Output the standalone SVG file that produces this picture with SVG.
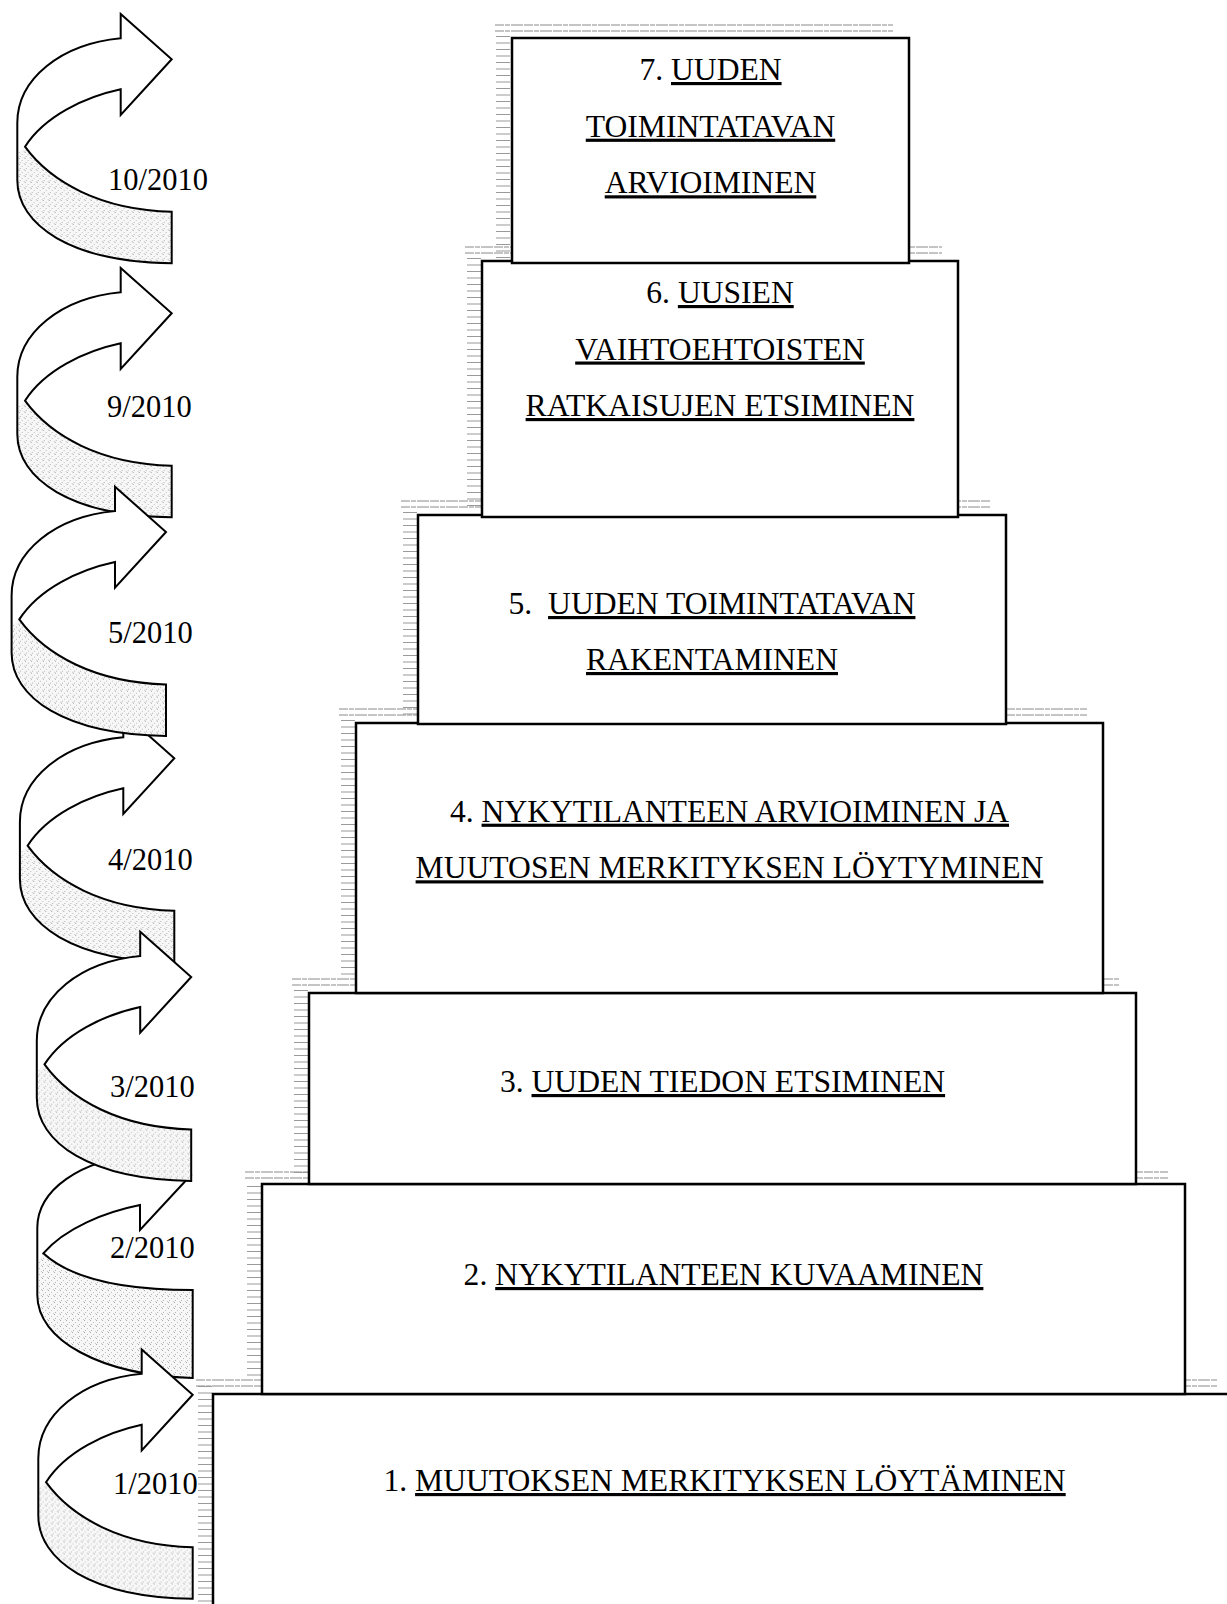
<svg xmlns="http://www.w3.org/2000/svg" xmlns:xlink="http://www.w3.org/1999/xlink" width="1227" height="1604" viewBox="0 0 1227 1604">
<style>
.box{fill:#fff;stroke:#000;stroke-width:2.5}
.t{font-family:"Liberation Serif","Times New Roman",serif;font-size:31.6px;fill:#000;text-anchor:middle}
.u{text-decoration:underline}
.d{font-family:"Liberation Serif","Times New Roman",serif;font-size:30.5px;fill:#000}
.dl{stroke:#8a8a8a;stroke-width:1;stroke-dasharray:9 1 5 1 12 1}
.ht{stroke:#9a9a9a;stroke-width:14;stroke-dasharray:1 5.5;fill:none}
.ab{fill:#fff;stroke:none}
.as{fill:url(#dots);stroke:none}
.ao{fill:none;stroke:#000;stroke-width:2;stroke-linejoin:miter}
</style>
<defs>
<pattern id="dots" width="6" height="6" patternUnits="userSpaceOnUse">
<rect width="6" height="6" fill="#f7f7f7"/>
<rect x="0" y="0" width="1" height="1" fill="#a8a8a8"/>
<rect x="3" y="2" width="1" height="1" fill="#c0c0c0"/>
<rect x="1" y="4" width="1" height="1" fill="#b4b4b4"/>
<rect x="5" y="5" width="1" height="1" fill="#c8c8c8"/>
</pattern>
<g id="arw">
<path class="ab" d="M -103.4,109 C -103.4,65 -60,30 0,24.3 L 0,0 L 51,45.3 L 0,101 L 0,75.3 C -36,83 -76,102 -95.7,132.7 C -70,168 -20,196 51,197.7 L 51,249.3 C -50,248 -103.4,211 -103.4,166 Z"/>
<path class="as" d="M -95.7,132.7 C -70,168 -20,196 51,197.7 L 51,249.3 C -50,248 -103.4,211 -103.4,166 L -103.4,140 Z"/>
<path class="ao" d="M -103.4,109 C -103.4,65 -60,30 0,24.3 L 0,0 L 51,45.3 L 0,101 L 0,75.3 C -36,83 -76,102 -95.7,132.7 C -70,168 -20,196 51,197.7 L 51,249.3 C -50,248 -103.4,211 -103.4,166 Z"/>
</g>
</defs>
<rect width="1227" height="1604" fill="#fff"/>

<g id="boxes">
<g id="box1">
<line class="dl" x1="196" y1="1380" x2="1217" y2="1380"/>
<line class="dl" x1="196" y1="1386" x2="1217" y2="1386"/>
<line class="ht" x1="205" y1="1386" x2="205" y2="1604"/>
<rect class="box" x="213" y="1394" width="1040" height="230"/>
<text class="t" x="724.6" y="1491">1. <tspan class="u">MUUTOKSEN MERKITYKSEN LÖYTÄMINEN</tspan></text>
</g>
<g id="box2">
<line class="dl" x1="245" y1="1172" x2="1168" y2="1172"/>
<line class="dl" x1="245" y1="1178" x2="1168" y2="1178"/>
<line class="ht" x1="254" y1="1186" x2="254" y2="1380"/>
<rect class="box" x="262" y="1184" width="923" height="210"/>
<text class="t" x="723.5" y="1285">2. <tspan class="u">NYKYTILANTEEN KUVAAMINEN</tspan></text>
</g>
<g id="box3">
<line class="dl" x1="292" y1="979" x2="1119" y2="979"/>
<line class="dl" x1="292" y1="985" x2="1119" y2="985"/>
<line class="ht" x1="301" y1="990" x2="301" y2="1178"/>
<rect class="box" x="309" y="993" width="827" height="191"/>
<text class="t" x="722.5" y="1092">3. <tspan class="u">UUDEN TIEDON ETSIMINEN</tspan></text>
</g>
<g id="box4">
<line class="dl" x1="339" y1="709" x2="1087" y2="709"/>
<line class="dl" x1="339" y1="715" x2="1087" y2="715"/>
<line class="ht" x1="348" y1="720" x2="348" y2="978"/>
<rect class="box" x="356" y="723" width="747" height="270"/>
<text class="t" x="729.5" y="821.7">4. <tspan class="u">NYKYTILANTEEN ARVIOIMINEN JA</tspan></text>
<text class="t" x="729.5" y="878.3"><tspan class="u">MUUTOSEN MERKITYKSEN LÖYTYMINEN</tspan></text>
</g>
<g id="box5">
<line class="dl" x1="401" y1="501" x2="990" y2="501"/>
<line class="dl" x1="401" y1="507" x2="990" y2="507"/>
<line class="ht" x1="410" y1="512" x2="410" y2="718"/>
<rect class="box" x="418" y="515" width="588" height="209"/>
<text class="t" x="712" y="614" style="white-space:pre">5.  <tspan class="u">UUDEN TOIMINTATAVAN</tspan></text>
<text class="t" x="712" y="670"><tspan class="u">RAKENTAMINEN</tspan></text>
</g>
<g id="box6">
<line class="dl" x1="465" y1="247" x2="942" y2="247"/>
<line class="dl" x1="465" y1="253" x2="942" y2="253"/>
<line class="ht" x1="474" y1="258" x2="474" y2="510"/>
<rect class="box" x="482" y="261" width="476" height="256"/>
<text class="t" x="720" y="303">6. <tspan class="u">UUSIEN</tspan></text>
<text class="t" x="720" y="359.5"><tspan class="u">VAIHTOEHTOISTEN</tspan></text>
<text class="t" x="720" y="416"><tspan class="u">RATKAISUJEN ETSIMINEN</tspan></text>
</g>
<g id="box7">
<line class="dl" x1="495" y1="25" x2="893" y2="25"/>
<line class="dl" x1="495" y1="31" x2="893" y2="31"/>
<line class="ht" x1="503" y1="36" x2="503" y2="258"/>
<rect class="box" x="512" y="38" width="397" height="225"/>
<text class="t" x="710.5" y="80">7. <tspan class="u">UUDEN</tspan></text>
<text class="t" x="710.5" y="136.7"><tspan class="u">TOIMINTATAVAN</tspan></text>
<text class="t" x="710.5" y="193.3"><tspan class="u">ARVIOIMINEN</tspan></text>
</g>
</g>

<g id="arrows">
<g id="arrow-10-2010"><use href="#arw" transform="translate(120.7,14)"/></g>
<g id="arrow-9-2010"><use href="#arw" transform="translate(120.7,268)"/></g>
<g id="arrow-4-2010"><use href="#arw" transform="translate(123.3,713)"/></g>
<g id="arrow-5-2010"><use href="#arw" transform="translate(115,486.7)"/></g>
<g id="arrow-2-2010">
<path class="ab" d="M 37.3,1228 C 37.3,1190 80,1160 140,1155 L 140,1129 L 191,1175 L 140,1230 L 140,1205 C 105,1212 65,1228 43.3,1253.3 C 70,1278 120,1290 192.7,1290 L 192.7,1378 C 100,1375 37.3,1340 37.3,1295 Z"/>
<path class="as" d="M 43.3,1253.3 C 70,1278 120,1290 192.7,1290 L 192.7,1378 C 100,1375 37.3,1340 37.3,1295 L 37.3,1262 Z"/>
<path class="ao" d="M 37.3,1228 C 37.3,1190 80,1160 140,1155 L 140,1129 L 191,1175 L 140,1230 L 140,1205 C 105,1212 65,1228 43.3,1253.3 C 70,1278 120,1290 192.7,1290 L 192.7,1378 C 100,1375 37.3,1340 37.3,1295 Z"/>
</g>
<g id="arrow-3-2010"><use href="#arw" transform="translate(140.2,931.7)"/></g>
<g id="arrow-1-2010"><use href="#arw" transform="translate(141.7,1349.5)"/></g>
</g>

<g id="labels">
<text class="d" x="108" y="190">10/2010</text>
<text class="d" x="107" y="416.7">9/2010</text>
<text class="d" x="108" y="642.7">5/2010</text>
<text class="d" x="108" y="870">4/2010</text>
<text class="d" x="110" y="1096.7">3/2010</text>
<text class="d" x="110" y="1258.3">2/2010</text>
<text class="d" x="113" y="1494.3">1/2010</text>
</g>
</svg>
